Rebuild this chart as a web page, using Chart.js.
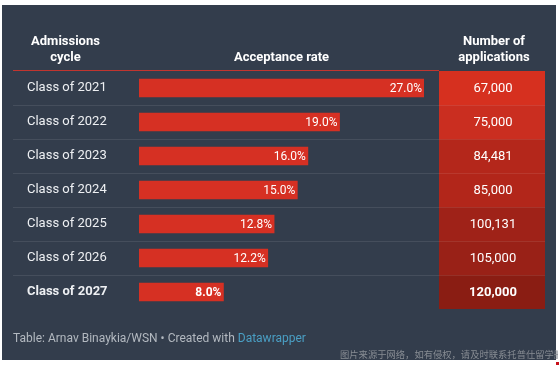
<!DOCTYPE html>
<html>
<head>
<meta charset="utf-8">
<script src="https://cdn.jsdelivr.net/npm/chart.js@4/dist/chart.umd.min.js"></script>
<style>
    html, body { margin: 0; padding: 0; background: #fff; }
    body { width: 560px; height: 365px; position: relative; overflow: hidden; font-family: Roboto, "Noto Sans", sans-serif; }
    #panel { position: absolute; left: 2px; top: 5px; width: 554px; height: 355px; background: #333d4c; }
    #chart { position: absolute; left: 0; top: 0; }
    .hdr { position: absolute; color: #fff; font-weight: 700; font-size: 13px; line-height: 16px; text-align: center; white-space: nowrap; }
    .pie { position: absolute; left: 13px; top: 331px; font-size: 12px; line-height: 14px; color: #b3b9c0; white-space: nowrap; }
    .pie span { color: #4a9fc4; }
    .marca { position: absolute; left: 340px; top: 348px; width: 218px; overflow: hidden; font-family: "Noto Sans CJK SC", sans-serif; font-size: 9.3px; line-height: 13px; color: #878c93; white-space: nowrap; }
    .punto { position: absolute; left: 556px; top: 362px; width: 3px; height: 3px; background: #c8101a; }
</style>
</head>
<body>
<div id="panel"></div>
<canvas id="chart" width="560" height="365"></canvas>
<div class="hdr" style="left:13px; top:33px; width:105px;">Admissions<br>cycle</div>
<div class="hdr" style="left:139px; top:49px; width:285px;">Acceptance rate</div>
<div class="hdr" style="left:443px; top:33px; width:102px;">Number of<br>applications</div>
<div class="pie">Table: Arnav Binaykia/WSN • Created with <span>Datawrapper</span></div>
<div class="marca">图片来源于网络，如有侵权，请及时联系托普仕留学删除</div>
<div class="punto"></div>
<script>
(function () {
    'use strict';

    // Datos de la tabla
    const ciclos = ['Class of 2021', 'Class of 2022', 'Class of 2023', 'Class of 2024', 'Class of 2025', 'Class of 2026', 'Class of 2027'];
    const tasaAceptacion = [27.0, 19.0, 16.0, 15.0, 12.8, 12.2, 8.0];
    const solicitudes = [67000, 75000, 84481, 85000, 100131, 105000, 120000];

    // Colores de las celdas (escala por valor)
    const coloresCelda = ['#d6301f', '#ca2e20', '#b4271b', '#b2261a', '#9f2218', '#992117', '#8a1d13'];
    const filaNegrita = 6;

    Chart.defaults.font.family = 'Roboto';

    // Plugin para celdas, separadores y etiquetas
    const tablaPlugin = {
        id: 'tabla',
        beforeDatasetsDraw: function (chart) {
            const ctx = chart.ctx;
            const y = chart.scales.y;
            ctx.save();

            // celdas de solicitudes
            solicitudes.forEach(function (v, i) {
                const cy = y.getPixelForValue(i);
                ctx.fillStyle = coloresCelda[i];
                ctx.fillRect(439, cy - 17, 106, 34);
            });

            // línea roja bajo el encabezado
            ctx.fillStyle = '#c2352f';
            ctx.fillRect(13, 70, 426, 1);

            // separadores de filas
            ctx.fillStyle = 'rgba(255,255,255,0.09)';
            for (let i = 0; i < ciclos.length - 1; i++) {
                const cy = y.getPixelForValue(i);
                ctx.fillRect(13, Math.round(cy + 17), 532, 1);
            }

            // números
            ctx.fillStyle = '#ffffff';
            ctx.textAlign = 'center';
            ctx.textBaseline = 'middle';
            solicitudes.forEach(function (v, i) {
                ctx.font = (i === filaNegrita ? 'bold ' : '') + '13px Roboto';
                ctx.fillText(v.toLocaleString('en-US'), 493, y.getPixelForValue(i) + 1);
            });
            ctx.restore();
        },
        afterDatasetsDraw: function (chart) {
            const ctx = chart.ctx;
            const meta = chart.getDatasetMeta(0);
            ctx.save();
            ctx.fillStyle = '#ffffff';
            ctx.textAlign = 'right';
            ctx.textBaseline = 'middle';
            meta.data.forEach(function (bar, i) {
                ctx.font = (i === filaNegrita ? 'bold ' : '') + '12px Roboto';
                ctx.fillText(tasaAceptacion[i].toFixed(1) + '%', bar.x - 2, bar.y + 1);
            });
            ctx.restore();
        }
    };

    new Chart(document.getElementById('chart'), {
        type: 'bar',
        data: {
            labels: ciclos,
            datasets: [{
                data: tasaAceptacion,
                backgroundColor: '#d63023',
                borderWidth: 0,
                barThickness: 18
            }]
        },
        options: {
            responsive: false,
            animation: false,
            indexAxis: 'y',
            layout: { padding: { left: 27, right: 136, top: 71, bottom: 56 } },
            plugins: {
                legend: { display: false },
                tooltip: { enabled: false }
            },
            scales: {
                x: { display: false, min: 0, max: 27 },
                y: {
                    grid: { display: false },
                    border: { display: false },
                    afterFit: function (scale) { scale.width = 112; },
                    ticks: {
                        crossAlign: 'far',
                        padding: 0,
                        color: '#eef0f3',
                        font: function (c) {
                            return { family: 'Roboto', size: 13, weight: c.index === filaNegrita ? 'bold' : 'normal' };
                        }
                    }
                }
            }
        },
        plugins: [tablaPlugin]
    });
})();
</script>
</body>
</html>
